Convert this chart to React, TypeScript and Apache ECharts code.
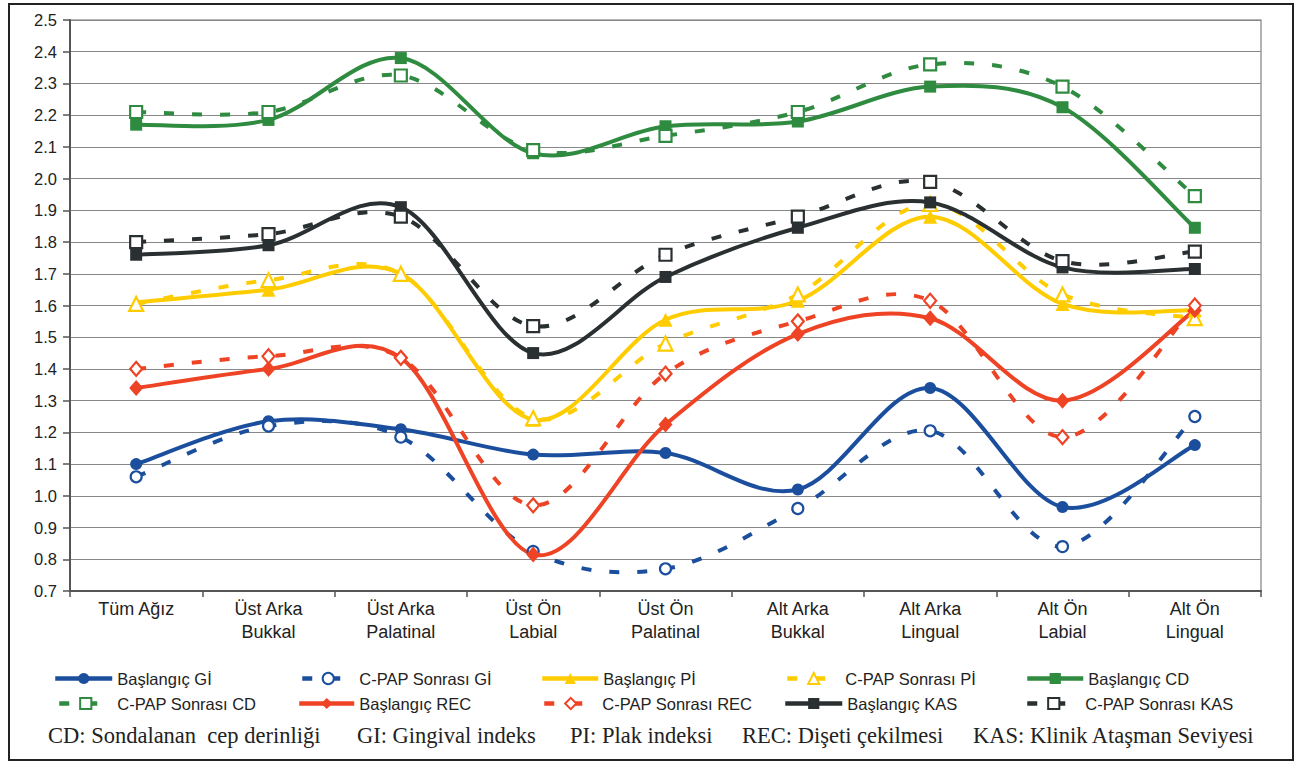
import React, { useEffect, useRef } from "react";
import * as echarts from "echarts";

const categories = [
  "Tüm Ağız",
  "Üst Arka\nBukkal",
  "Üst Arka\nPalatinal",
  "Üst Ön\nLabial",
  "Üst Ön\nPalatinal",
  "Alt Arka\nBukkal",
  "Alt Arka\nLingual",
  "Alt Ön\nLabial",
  "Alt Ön\nLingual",
];

const giBase = [1.10, 1.235, 1.21, 1.13, 1.135, 1.02, 1.34, 0.965, 1.16];
const giCpap = [1.06, 1.22, 1.185, 0.825, 0.77, 0.96, 1.205, 0.84, 1.25];
const piBase = [1.61, 1.65, 1.70, 1.24, 1.555, 1.615, 1.88, 1.605, 1.585];
const piCpap = [1.605, 1.68, 1.70, 1.245, 1.48, 1.635, 1.92, 1.635, 1.56];
const cdBase = [2.17, 2.185, 2.38, 2.08, 2.165, 2.18, 2.29, 2.225, 1.845];
const cdCpap = [2.21, 2.21, 2.325, 2.09, 2.135, 2.21, 2.36, 2.29, 1.945];
const recBase = [1.34, 1.40, 1.435, 0.815, 1.225, 1.51, 1.56, 1.30, 1.585];
const recCpap = [1.40, 1.44, 1.435, 0.97, 1.385, 1.55, 1.615, 1.185, 1.60];
const kasBase = [1.76, 1.79, 1.91, 1.45, 1.69, 1.845, 1.925, 1.72, 1.715];
const kasCpap = [1.80, 1.825, 1.88, 1.535, 1.76, 1.88, 1.99, 1.74, 1.77];

const footnotes = [
  "CD: Sondalanan  cep derinliği",
  "GI: Gingival indeks",
  "PI: Plak indeksi",
  "REC: Dişeti çekilmesi",
  "KAS: Klinik Ataşman Seviyesi",
];
const footnoteX = [48, 357, 570, 742, 973];

const BLUE = "#1B4F9E";
const YELLOW = "#FFCC00";
const GREEN = "#2E8B3F";
const RED = "#EE4324";
const DARK = "#2A3032";

const DASH = [10, 18];

// Excel-like smoothed line (Catmull-Rom style Bezier through the points)
const CatmullShape = echarts.graphic.extendShape({
  type: "catmull",
  shape: { points: [] as number[][] },
  buildPath(ctx: any, shape: any) {
    const p = shape.points as number[][];
    if (!p || p.length < 2) return;
    ctx.moveTo(p[0][0], p[0][1]);
    for (let i = 0; i < p.length - 1; i++) {
      const p0 = p[i - 1] || p[i];
      const p1 = p[i];
      const p2 = p[i + 1];
      const p3 = p[i + 2] || p[i + 1];
      ctx.bezierCurveTo(
        p1[0] + (p2[0] - p0[0]) / 6,
        p1[1] + (p2[1] - p0[1]) / 6,
        p2[0] - (p3[0] - p1[0]) / 6,
        p2[1] - (p3[1] - p1[1]) / 6,
        p2[0],
        p2[1]
      );
    }
  },
});
echarts.graphic.registerShape("catmull", CatmullShape);

type Spec = {
  name: string;
  data: number[];
  color: string;
  symbol: string;
  size: number | number[];
  dashed: boolean;
  legendLeft: number;
  legendWidth: number;
  row: number;
};

const specs: Spec[] = [
  { name: "Başlangıç Gİ", data: giBase, color: BLUE, symbol: "circle", size: 12, dashed: false, legendLeft: 53, legendWidth: 57, row: 0 },
  { name: "C-PAP Sonrası Gİ", data: giCpap, color: BLUE, symbol: "circle", size: 11, dashed: true, legendLeft: 300, legendWidth: 52, row: 0 },
  { name: "Başlangıç Pİ", data: piBase, color: YELLOW, symbol: "triangle", size: 14, dashed: false, legendLeft: 540, legendWidth: 56, row: 0 },
  { name: "C-PAP Sonrası Pİ", data: piCpap, color: YELLOW, symbol: "triangle", size: 14, dashed: true, legendLeft: 785, legendWidth: 53, row: 0 },
  { name: "Başlangıç CD", data: cdBase, color: GREEN, symbol: "rect", size: 12, dashed: false, legendLeft: 1025, legendWidth: 56, row: 0 },
  { name: "C-PAP Sonrası CD", data: cdCpap, color: GREEN, symbol: "rect", size: 12, dashed: true, legendLeft: 57, legendWidth: 53, row: 1 },
  { name: "Başlangıç REC", data: recBase, color: RED, symbol: "diamond", size: [14, 16], dashed: false, legendLeft: 297, legendWidth: 55, row: 1 },
  { name: "C-PAP Sonrası REC", data: recCpap, color: RED, symbol: "diamond", size: [12, 14], dashed: true, legendLeft: 542, legendWidth: 53, row: 1 },
  { name: "Başlangıç KAS", data: kasBase, color: DARK, symbol: "rect", size: 12, dashed: false, legendLeft: 783, legendWidth: 57, row: 1 },
  { name: "C-PAP Sonrası KAS", data: kasCpap, color: DARK, symbol: "rect", size: 12, dashed: true, legendLeft: 1025, legendWidth: 53, row: 1 },
];

const legendRowTop = [670, 695];

export default function App() {
  const ref = useRef<HTMLDivElement>(null);

  useEffect(() => {
    if (!ref.current) return;
    const chart = echarts.init(ref.current, undefined, { renderer: "svg" });

    const curveSeries = specs.map((s, k) => ({
      type: "custom",
      name: "curve-" + k,
      data: s.data.map((v, i) => [i, v]),
      encode: { x: 0, y: 1 },
      silent: true,
      z: 2 + k * 0.01,
      renderItem: (params: any, api: any) => {
        if (params.dataIndex !== 0) return null;
        const pts = s.data.map((v, i) => api.coord([i, v]));
        return {
          type: "catmull",
          shape: { points: pts },
          style: {
            fill: "none",
            stroke: s.color,
            lineWidth: 4,
            lineDash: s.dashed ? DASH : null,
            lineCap: "butt",
            lineJoin: "round",
          },
        };
      },
    }));

    const markerSeries = specs.map((s) => ({
      name: s.name,
      type: "line",
      data: s.data,
      symbol: s.symbol,
      symbolSize: s.size,
      showAllSymbol: true,
      lineStyle: { width: 0, opacity: 0, color: s.color },
      itemStyle: s.dashed
        ? { color: "#ffffff", borderColor: s.color, borderWidth: 2.2 }
        : { color: s.color, borderWidth: 0 },
      emphasis: { disabled: true },
      silent: true,
      z: 4,
    }));

    const legends = specs.map((s) => ({
      data: [s.name],
      left: s.legendLeft,
      top: legendRowTop[s.row],
      padding: 0,
      itemWidth: s.legendWidth,
      itemHeight: 14,
      selectedMode: false,
      lineStyle: {
        color: s.color,
        width: 4.5,
        type: s.dashed ? DASH : "solid",
        opacity: 1,
        cap: "butt",
      },
      textStyle: {
        fontFamily: "Liberation Sans",
        fontSize: 16.5,
        color: "#222",
      },
    }));

    chart.setOption({
      animation: false,
      backgroundColor: "#ffffff",
      grid: {
        left: 70,
        right: 38,
        top: 20,
        bottom: 170,
        containLabel: false,
        show: true,
        borderColor: "#9a9a9a",
        borderWidth: 1.5,
      },
      xAxis: {
        type: "category",
        data: categories,
        boundaryGap: true,
        axisLine: { show: true, lineStyle: { color: "#555", width: 2 } },
        axisTick: { show: true, interval: 0, length: 6, lineStyle: { color: "#555", width: 1.5 } },
        axisLabel: {
          interval: 0,
          fontFamily: "Liberation Sans",
          fontSize: 18,
          lineHeight: 23,
          margin: 6,
          color: "#222",
        },
        splitLine: { show: false },
      },
      yAxis: {
        type: "value",
        min: 0.7,
        max: 2.5,
        interval: 0.1,
        axisLine: { show: true, lineStyle: { color: "#555", width: 2 } },
        axisTick: { show: true, length: 7, lineStyle: { color: "#555", width: 1.5 } },
        axisLabel: {
          fontFamily: "Liberation Sans",
          fontSize: 16.5,
          color: "#222",
          margin: 13,
          formatter: (v: number) => v.toFixed(1),
        },
        splitLine: { show: true, lineStyle: { color: "#888", width: 1.2 } },
      },
      legend: legends,
      series: [...curveSeries, ...markerSeries],
      graphic: [
        {
          type: "rect",
          shape: { x: 9, y: 4, width: 1284, height: 756 },
          style: { fill: "none", stroke: "#222", lineWidth: 2 },
          silent: true,
          z: 10,
        },
        ...footnotes.map((t, i) => ({
          type: "text",
          x: footnoteX[i],
          y: 735,
          style: {
            text: t,
            fontFamily: "Liberation Serif",
            fontSize: 22.5,
            fill: "#222",
            textVerticalAlign: "middle",
            verticalAlign: "middle",
          },
          silent: true,
        })),
      ],
    });

    return () => chart.dispose();
  }, []);

  return (
    <div
      ref={ref}
      style={{ position: "absolute", left: 0, top: 0, width: 1299, height: 761 }}
    />
  );
}
